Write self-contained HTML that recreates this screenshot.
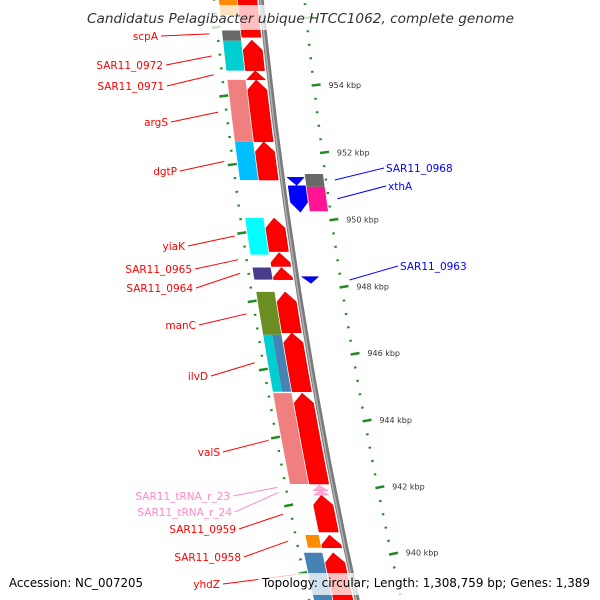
<!DOCTYPE html>
<html><head><meta charset="utf-8"><style>
html,body{margin:0;padding:0;background:#fff;overflow:hidden;width:600px;height:600px;}
svg{display:block;overflow:hidden;}
text{font-family:"DejaVu Sans","Liberation Sans",sans-serif;}
</style></head><body>
<svg id="map" width="600" height="600" viewBox="0 0 600 600" xmlns="http://www.w3.org/2000/svg">
<g id="ticks"></g>
<g id="backbone"></g>
<g id="features"></g>
<g id="labels"></g>
<rect x="84" y="5" width="434" height="25" fill="#fff" fill-opacity="0.75"/>
<text x="87" y="23" font-size="13" font-style="italic" fill="#333" textLength="427" lengthAdjust="spacingAndGlyphs">Candidatus Pelagibacter ubique HTCC1062, complete genome</text>
<rect x="5" y="573" width="143" height="22" fill="#fff" fill-opacity="0.75"/>
<rect x="258" y="573" width="337" height="22" fill="#fff" fill-opacity="0.75"/>
<text x="9" y="587" font-size="12" fill="#000" textLength="134" lengthAdjust="spacingAndGlyphs">Accession: NC_007205</text>
<text x="262" y="587" font-size="12" fill="#000" textLength="328" lengthAdjust="spacingAndGlyphs">Topology: circular; Length: 1,308,759 bp; Genes: 1,389</text>
</svg>
<script>
// ---- data (kbp) ----
const fwdStarts = [955.56, 954.58, 954.31, 952.49, 951.36, 949.25, 948.81, 948.42, 946.85, 945.10, 942.36, 940.93, 940.46, 938.66];
const fwdEnds   = [957.16, 955.48, 954.58, 954.31, 952.49, 950.24, 949.22, 948.78, 948.06, 946.85, 945.06, 942.03, 940.84, 940.31];
const trnaStarts = [942.03, 942.16];
const trnaEnds   = [942.18, 942.33];
const boxStarts = [956.21, 955.46, 954.58, 952.49, 951.36, 949.16, 948.42, 946.79, 945.10, 942.36, 940.46, 938.66];
const boxEnds   = [957.16, 955.76, 955.46, 954.31, 952.49, 950.24, 948.78, 948.06, 946.79, 945.06, 940.84, 940.31];
const boxColors = ["#FF8C00","#696969","#00CED1","#F08080","#00BFFF","#00FFFF","#483D8B","#6B8E23","#00CED1","#F08080","#FF8C00","#4682B4"];
const revStarts = [951.20, 950.41, 948.31];
const revEnds   = [951.44, 951.19, 948.51];
const revBoxStarts = [951.16, 950.44];
const revBoxEnds   = [951.54, 951.16];
const revBoxColors = ["#696969","#FF1493"];
const leftLabels = ["scpA","SAR11_0972","SAR11_0971","argS","dgtP","yiaK","SAR11_0965","SAR11_0964","manC","ilvD","valS","SAR11_tRNA_r_23","SAR11_tRNA_r_24","SAR11_0959","SAR11_0958","yhdZ"];
const leftLabelPos = [955.66,955.01,954.46,953.36,951.91,949.71,949.01,948.61,947.41,945.96,943.66,942.26,942.11,941.46,940.66,939.66];
const rightLabels = ["SAR11_0968","xthA","SAR11_0963"];
const rightLabelPos = [951.36,950.81,948.41];
const majorTicks = [954,952,950,948,946,944,942,940];

// ---- geometry ----
const R = 5200, CX = 5435, CY = -520;
const A0 = 0.11765, K = 0.006585;
function ang(kbp){ return A0 + (954 - kbp) * K; }
function P(r,a){ return [CX - r*Math.cos(a), CY + r*Math.sin(a)]; }
function FP(r,a){ const y = CY + R*Math.sin(a); const dy=y-CY; return [CX - Math.sqrt(r*r-dy*dy), y]; }
function pt(r,a){ const p=FP(r,a); return p[0].toFixed(2)+","+p[1].toFixed(2); }
const NS="http://www.w3.org/2000/svg";
function mk(tag, parent, attrs){ const e=document.createElementNS(NS,tag); for(const k in attrs) e.setAttribute(k,attrs[k]); parent.appendChild(e); return e; }
function arcPts(r,a1,a2){ const out=[]; for(let i=0;i<=8;i++){ out.push(pt(r,a1+(a2-a1)*i/8)); } return out; }
function band(r1,r2,a1,a2){ return arcPts(r1,a1,a2).concat(arcPts(r2,a2,a1)).join(" "); }
const HEAD = 10/R;
function fwdArrow(r1,r2,s,e){
  const aS=ang(s), aE=ang(e); let aN=aE+HEAD; if(aN>aS) aN=aS;
  return arcPts(r1,aS,aN).concat([pt((r1+r2)/2,aE)], arcPts(r2,aN,aS)).join(" ");
}
function revArrow(r1,r2,s,e){
  const aS=ang(s), aE=ang(e); let aN=aS-HEAD; if(aN<aE) aN=aE;
  return arcPts(r1,aE,aN).concat([pt((r1+r2)/2,aS)], arcPts(r2,aN,aE)).join(" ");
}

// ---- ticks ----
const tg=document.getElementById('ticks');
for(let k=0;k<=60;k++){
  const kb = 938 + k*0.4;
  if(kb>957.6) break;
  const a=ang(kb);
  const isMajor = Math.abs(kb - Math.round(kb/2)*2) < 0.01;
  let l1 = isMajor ? P(R+43,a) : P(R+45.5,a), l2 = isMajor ? P(R+52,a) : P(R+48,a);
  let t = mk('line',tg,{x1:l1[0],y1:l1[1],x2:l2[0],y2:l2[1],stroke:"#228B22","stroke-width":isMajor?2.5:2});
  
  
  l1 = isMajor ? P(R-41,a) : P(R-42,a); l2 = isMajor ? P(R-50,a) : P(R-44.5,a);
  t = mk('line',tg,{x1:l1[0],y1:l1[1],x2:l2[0],y2:l2[1],stroke:"#228B22","stroke-width":isMajor?2.5:2});
  
  
}
majorTicks.forEach(function(kb){
  const p=P(R-58,ang(kb));
  const t=mk('text',tg,{x:p[0],y:p[1]+4.5,"font-size":8,fill:"#333"});
  t.textContent = kb+" kbp";
  
  
});

// ---- backbone ----
const bg=document.getElementById('backbone');
let bb=mk('path',bg,{d:"M"+arcPts(R,ang(958),ang(938)).join(" L"),fill:"none",stroke:"#7a7a7a","stroke-width":5});


bb=mk('path',bg,{d:"M"+arcPts(R+0.8,ang(958),ang(938)).join(" L"),fill:"none",stroke:"#b0b0b0","stroke-width":1.5});



// ---- features ----
const fg=document.getElementById('features');
boxStarts.forEach(function(s,i){
  let r1=R+24, r2=R+42;
  if(i===10){ r2=R+37; }
  if(i===8){
    let e1=mk('polygon',fg,{points:band(r1,r1+9,ang(s),ang(boxEnds[i])),fill:"#4682B4"});
    
    
    r1=r1+9;
  }
  const e=mk('polygon',fg,{points:band(r1,r2,ang(s),ang(boxEnds[i])),fill:boxColors[i]});
  
  
});
fwdStarts.forEach(function(s,i){
  const e=mk('polygon',fg,{points:fwdArrow(R+4,R+23,s,fwdEnds[i]),fill:"#FF0000",stroke:"#d00000","stroke-width":0.5});
  
  
});
trnaStarts.forEach(function(s,i){
  const e=mk('polygon',fg,{points:fwdArrow(R+6,R+21,s,trnaEnds[i]),fill:"#FFAAD4",stroke:"#ff88c4","stroke-width":0.5});
  
  
});
revBoxStarts.forEach(function(s,i){
  const e=mk('polygon',fg,{points:band(R-23,R-41,ang(s),ang(revBoxEnds[i])),fill:revBoxColors[i]});
  
  
});
revStarts.forEach(function(s,i){
  const e=mk('polygon',fg,{points:revArrow(R-5,R-22,s,revEnds[i]),fill:"#0000FF",stroke:"#0000c0","stroke-width":0.5});
  
  
});

// ---- labels ----
const lg=document.getElementById('labels');
const leftTextX=[158,163,164,168,177,185,192,193,196,208,220,230,232,236,241,220];
const leftTextY=[40,69,90,126,175,250,273,292,329,380,456,500,516,533,561,588];
leftLabels.forEach(function(name,i){
  const isT = name.indexOf('tRNA')>=0;
  const col = isT ? "#FF88C8" : "#FF0000";
  const p=FP(R+55,ang(leftLabelPos[i]));
  const ln=mk('line',lg,{x1:leftTextX[i]+3,y1:leftTextY[i]-4,x2:p[0],y2:p[1],stroke:col,"stroke-width":1});
  
  
  const t=mk('text',lg,{x:leftTextX[i],y:leftTextY[i],"text-anchor":"end","font-size":10.5,fill:col});
  t.textContent=name;
  
  
});
const rightTextX=[386,388,400];
const rightTextY=[172,190,270];
rightLabels.forEach(function(name,i){
  const p=FP(R-52,ang(rightLabelPos[i]));
  const ln=mk('line',lg,{x1:p[0],y1:p[1],x2:rightTextX[i]-2,y2:rightTextY[i]-4,stroke:"#0000FF","stroke-width":1});
  
  
  const t=mk('text',lg,{x:rightTextX[i],y:rightTextY[i],"font-size":10.5,fill:"#0000FF"});
  t.textContent=name;
  
  
});
</script>
</body></html>
